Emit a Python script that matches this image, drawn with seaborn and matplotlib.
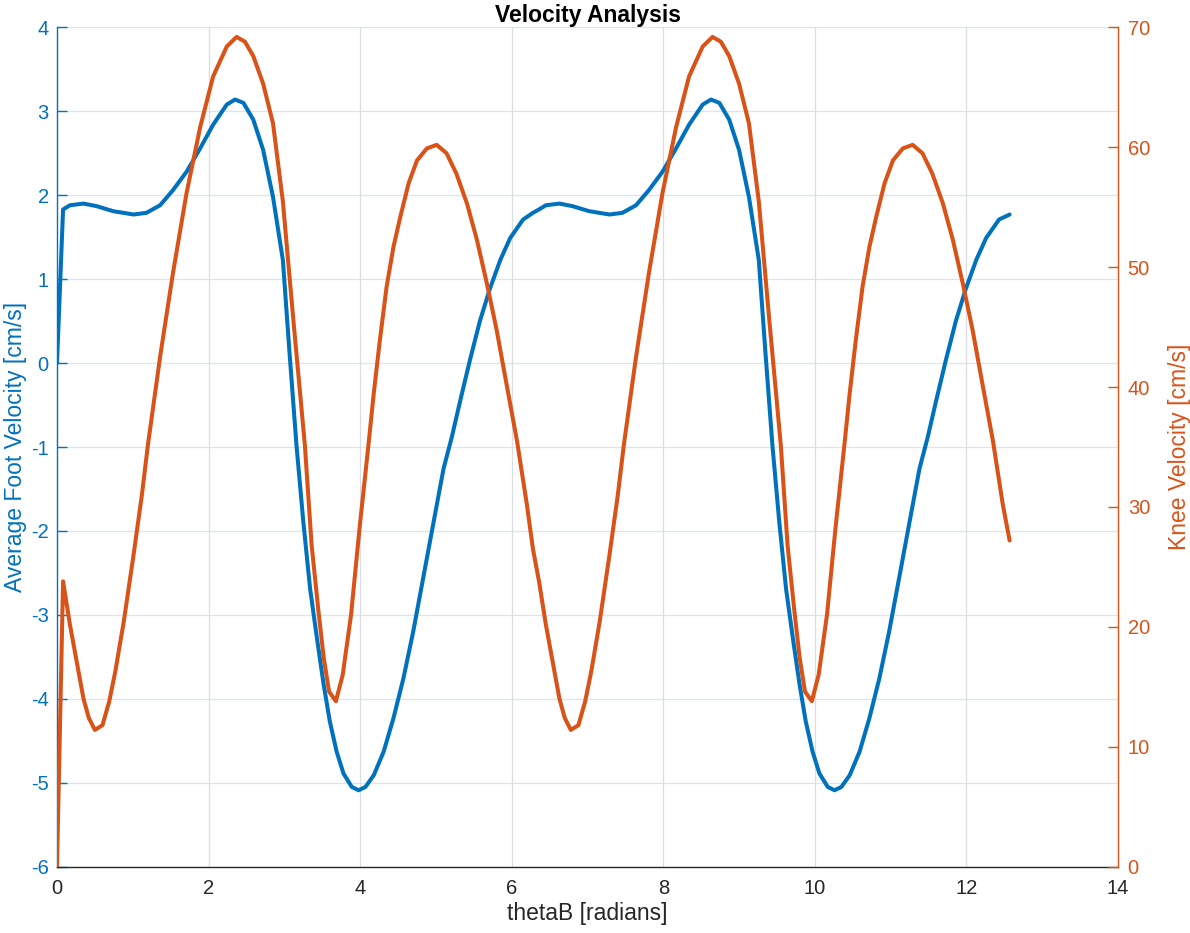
import numpy as np
import pandas as pd
import matplotlib
matplotlib.use("Agg")
import matplotlib.pyplot as plt
import seaborn as sns

# data (theta in radians)
theta_foot = [0.0, 0.08, 0.17, 0.35, 0.52, 0.74, 1.01, 1.18, 1.36, 1.53, 1.71, 1.89, 2.06, 2.24, 2.35,
              2.46, 2.59, 2.72, 2.85, 2.98, 3.07, 3.16, 3.25, 3.34, 3.43, 3.52, 3.60, 3.69, 3.78, 3.89,
              3.98, 4.07, 4.18, 4.31, 4.44, 4.57, 4.70, 4.83, 4.97, 5.10, 5.21, 5.32, 5.45, 5.58, 5.71,
              5.85, 5.98, 6.15, 6.28,
              6.36, 6.45, 6.63, 6.80, 7.02, 7.29, 7.46, 7.64, 7.81, 7.99, 8.17, 8.34, 8.52, 8.63,
              8.74, 8.87, 9.00, 9.13, 9.26, 9.35, 9.44, 9.53, 9.62, 9.71, 9.80, 9.88, 9.97, 10.06, 10.17,
              10.26, 10.35, 10.46, 10.59, 10.72, 10.85, 10.98, 11.11, 11.25, 11.38, 11.49, 11.60, 11.73,
              11.86, 11.99, 12.13, 12.26, 12.43, 12.57]
foot_vel = [0.0, 1.83, 1.88, 1.90, 1.87, 1.81, 1.77, 1.79, 1.88, 2.06, 2.28, 2.56, 2.84, 3.08, 3.14,
            3.10, 2.90, 2.54, 1.98, 1.23, 0.10, -0.98, -1.89, -2.69, -3.28, -3.84, -4.27, -4.63, -4.89, -5.05,
            -5.09, -5.05, -4.91, -4.63, -4.23, -3.76, -3.20, -2.57, -1.89, -1.26, -0.88, -0.45, 0.04, 0.50, 0.88,
            1.23, 1.49, 1.71, 1.79,
            1.83, 1.88, 1.90, 1.87, 1.81, 1.77, 1.79, 1.88, 2.06, 2.28, 2.56, 2.84, 3.08, 3.14,
            3.10, 2.90, 2.54, 1.98, 1.23, 0.10, -0.98, -1.89, -2.69, -3.28, -3.84, -4.27, -4.63, -4.89, -5.05,
            -5.09, -5.05, -4.91, -4.63, -4.23, -3.76, -3.20, -2.57, -1.89, -1.26, -0.88, -0.45, 0.04,
            0.50, 0.88, 1.23, 1.49, 1.71, 1.77]

theta_knee = [0.0, 0.08, 0.17, 0.26, 0.35, 0.42, 0.50, 0.60, 0.69, 0.77, 0.88, 1.01, 1.12, 1.20, 1.36,
              1.53, 1.71, 1.89, 2.06, 2.24, 2.37, 2.48, 2.59, 2.72, 2.85, 2.98, 3.12, 3.27, 3.36, 3.45,
              3.52, 3.59, 3.68, 3.77, 3.88, 3.99, 4.11, 4.18, 4.26, 4.35, 4.44, 4.53, 4.64, 4.75, 4.88,
              5.01, 5.14, 5.27, 5.41, 5.54, 5.67, 5.80, 5.93, 6.07, 6.20, 6.28,
              6.36, 6.45, 6.54, 6.63, 6.70, 6.78, 6.88, 6.97, 7.05, 7.16, 7.29, 7.40, 7.48, 7.64,
              7.81, 7.99, 8.17, 8.34, 8.52, 8.65, 8.76, 8.87, 9.00, 9.13, 9.26, 9.40, 9.55, 9.64, 9.73,
              9.80, 9.87, 9.96, 10.05, 10.16, 10.27, 10.39, 10.46, 10.54, 10.63, 10.72, 10.81, 10.92, 11.03, 11.16,
              11.29, 11.42, 11.55, 11.69, 11.82, 11.95, 12.08, 12.21, 12.35, 12.48, 12.57]
knee_vel = [0.0, 23.8, 20.2, 17.1, 14.0, 12.4, 11.4, 11.8, 13.8, 16.3, 20.4, 26.0, 31.0, 35.2, 42.5,
            49.5, 56.2, 61.7, 65.9, 68.4, 69.2, 68.8, 67.6, 65.3, 62.0, 55.5, 45.5, 35.2, 26.8, 21.3,
            17.4, 14.6, 13.8, 16.0, 21.0, 28.1, 35.2, 39.5, 43.9, 48.4, 51.7, 54.2, 57.0, 58.9, 59.9,
            60.2, 59.5, 57.8, 55.3, 52.3, 48.7, 44.8, 40.3, 35.5, 30.2, 26.5,
            23.8, 20.2, 17.1, 14.0, 12.4, 11.4, 11.8, 13.8, 16.3, 20.4, 26.0, 31.0, 35.2, 42.5,
            49.5, 56.2, 61.7, 65.9, 68.4, 69.2, 68.8, 67.6, 65.3, 62.0, 55.5, 45.5, 35.2, 26.8, 21.3,
            17.4, 14.6, 13.8, 16.0, 21.0, 28.1, 35.2, 39.5, 43.9, 48.4, 51.7, 54.2, 57.0, 58.9, 59.9,
            60.2, 59.5, 57.8, 55.3, 52.3, 48.7, 44.8, 40.3, 35.5, 30.2, 27.2]

BLUE = "#0072BD"
ORANGE = "#D95319"
DARK = "#262626"

sns.set_style("white")
plt.rcParams['font.family'] = ['Liberation Sans', 'DejaVu Sans']
plt.rcParams['axes.unicode_minus'] = False

fig = plt.figure(figsize=(11.9, 9.33), dpi=100)
ax = fig.add_axes([0.0479, 0.0711, 0.8916, 0.8996])

sns.lineplot(x=theta_foot, y=foot_vel, ax=ax, color=BLUE, linewidth=2.9, sort=False)
ax.set_xlim(0, 14)
ax.set_ylim(-6, 4)
ax.set_xticks(range(0, 15, 2))
ax.set_yticks(range(-6, 5))

# grid: bluish horizontal lines, grey vertical lines
for v in range(-5, 5):
    ax.axhline(v, color="#DCE5EE", linewidth=0.9, zorder=0)
for v in range(2, 14, 2):
    ax.axvline(v, color="#DADDE1", linewidth=0.9, zorder=0)

ax2 = ax.twinx()
sns.lineplot(x=theta_knee, y=knee_vel, ax=ax2, color=ORANGE, linewidth=2.9, sort=False)
ax2.set_ylim(0, 70)
ax2.set_yticks(range(0, 71, 10))

ax.spines['top'].set_visible(False)
ax2.spines['top'].set_visible(False)
ax.spines['right'].set_visible(False)
ax2.spines['left'].set_visible(False)
ax2.spines['bottom'].set_visible(False)
ax.spines['left'].set_color(BLUE)
ax2.spines['right'].set_color(ORANGE)
ax.spines['bottom'].set_color(DARK)
for s in [ax.spines['left'], ax2.spines['right'], ax.spines['bottom']]:
    s.set_linewidth(1.0)

ax.tick_params(axis='x', direction='in', length=7, width=1, colors=DARK, labelsize=14.5, pad=9)
ax.tick_params(axis='y', direction='in', length=7, width=1, colors=BLUE, labelsize=14.5, pad=6)
ax2.tick_params(axis='y', direction='in', length=7, width=1, colors=ORANGE, labelsize=14.5, pad=7)

ax.set_xlabel("thetaB [radians]", fontsize=16.5, color=DARK, labelpad=3)
ax.set_ylabel("Average Foot Velocity [cm/s]", fontsize=16.5, color=BLUE, labelpad=3)
ax2.set_ylabel("Knee Velocity [cm/s]", fontsize=16.5, color=ORANGE, labelpad=13)
ax.set_title("Velocity Analysis", fontsize=16.5, fontweight='bold', color='black', pad=2)

fig.savefig("out.png", dpi=100)
